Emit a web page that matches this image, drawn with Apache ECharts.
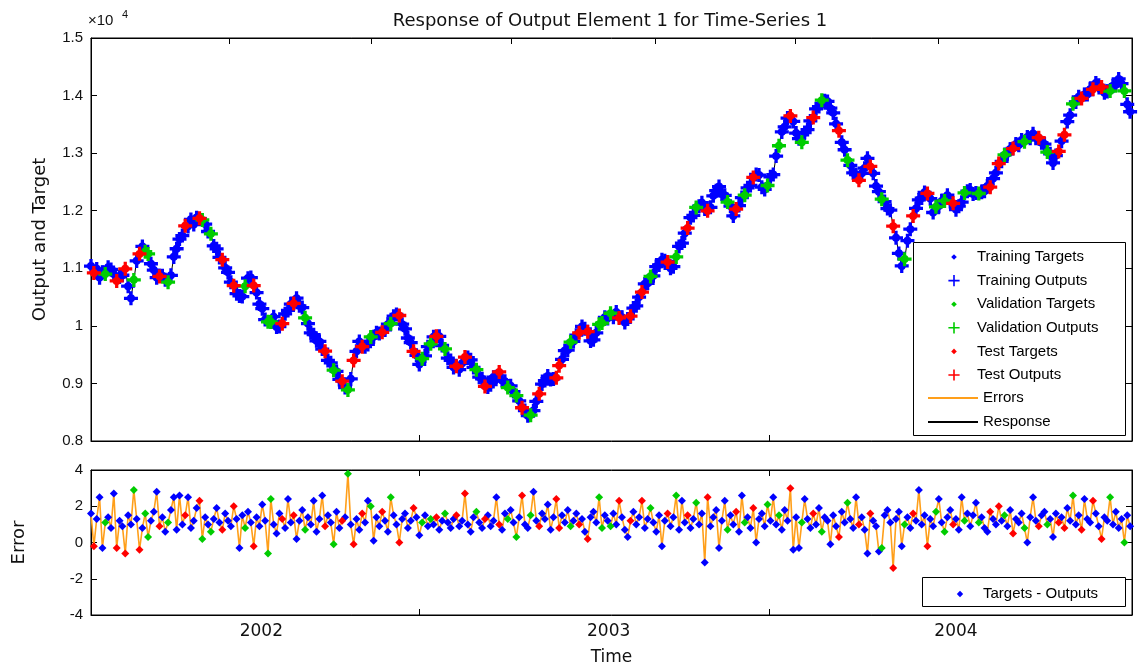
<!DOCTYPE html>
<html>
<head>
<meta charset="utf-8">
<script src="https://cdn.jsdelivr.net/npm/echarts@6/dist/echarts.min.js"></script>
<style>
  html, body { margin: 0; padding: 0; background: #fff; }
  #chart { width: 1138px; height: 668px; }
</style>
</head>
<body>
<div id="chart"></div>
<script>
// Sampling of the series: one sample every 3 days, counted from the axis start date
const axisStart = '2001-07-06';
const axisEnd = '2004-07-04';
const stepDays = 3;

// Target values of output element 1
const targetValues = [
  11040, 10920, 10990, 10840, 10930, 10900, 11020, 10980, 10900, 10780,
  10850, 10880, 10990, 10690, 10480, 10800, 11130, 11250, 11380, 11290,
  11250, 11080, 10970, 10840, 10860, 10870, 10800, 10760, 10880, 11200,
  11340, 11510, 11570, 11740, 11730, 11850, 11760, 11880, 11870, 11840,
  11770, 11640, 11600, 11390, 11340, 11190, 11150, 11010, 10930, 10760,
  10700, 10560, 10520, 10510, 10690, 10830, 10840, 10700, 10580, 10380,
  10300, 10110, 10070, 10070, 10160, 9980, 9990, 10040, 10210, 10270,
  10380, 10390, 10480, 10350, 10320, 10140, 10040, 9880, 9850, 9740,
  9730, 9600, 9560, 9400, 9360, 9230, 9210, 9070, 9040, 8930,
  8890, 9080, 9400, 9560, 9730, 9640, 9640, 9680, 9810, 9810,
  9880, 9870, 9890, 9930, 10030, 10040, 10170, 10200, 10180, 10030,
  9950, 9790, 9710, 9560, 9490, 9330, 9430, 9480, 9640, 9690,
  9810, 9820, 9820, 9660, 9600, 9440, 9400, 9280, 9300, 9240,
  9350, 9460, 9450, 9410, 9280, 9240, 9110, 9080, 8950, 8940,
  8980, 9110, 9120, 9200, 9050, 9040, 8930, 8960, 8860, 8790,
  8700, 8580, 8530, 8440, 8450, 8530, 8690, 8820, 8990, 9050,
  9130, 9070, 9080, 9100, 9310, 9420, 9570, 9580, 9720, 9730,
  9840, 9880, 9990, 9950, 9900, 9740, 9760, 9880, 10030, 10050,
  10150, 10130, 10220, 10150, 10240, 10140, 10150, 10060, 10120, 10170,
  10310, 10350, 10500, 10590, 10730, 10740, 10860, 10870, 11030, 11060,
  11150, 11130, 11110, 11000, 11030, 11200, 11380, 11440, 11610, 11700,
  11880, 11920, 12060, 12080, 12140, 12030, 12000, 12060, 12260, 12350,
  12420, 12290, 12270, 12150, 12080, 11910, 12030, 12090, 12230, 12270,
  12400, 12440, 12580, 12630, 12620, 12410, 12370, 12440, 12590, 12630,
  12950, 13130, 13370, 13460, 13610, 13650, 13550, 13350, 13250, 13190,
  13360, 13410, 13560, 13620, 13770, 13810, 13920, 13910, 13900, 13780,
  13700, 13510, 13390, 13190, 13060, 12880, 12790, 12660, 12630, 12530,
  12650, 12740, 12910, 12770, 12650, 12430, 12330, 12200, 12160, 12040,
  12010, 11730, 11530, 11260, 11040, 11160, 11480, 11680, 11910, 12040,
  12190, 12220, 12320, 12300, 12210, 11970, 12070, 12080, 12170, 12170,
  12270, 12160, 12130, 12020, 12080, 12150, 12310, 12340, 12360, 12290,
  12310, 12300, 12320, 12340, 12430, 12410, 12560, 12660, 12820, 12860,
  12970, 12990, 13070, 13080, 13160, 13140, 13230, 13200, 13280, 13260,
  13340, 13260, 13270, 13180, 13160, 13020, 12990, 12830, 12960, 13030,
  13210, 13320, 13550, 13660, 13860, 13890, 13980, 13950, 14020, 14020,
  14110, 14110, 14220, 14180, 14150, 14050, 14070, 14080, 14170, 14190,
  14290, 14210, 14080, 13850, 13720
];

// Errors (targets - outputs)
const errorValues = [
  1.6, -0.2, 1.3, 2.5, -0.3, 1.1, 1.4, 0.8, 2.7, -0.3,
  1.2, 0.9, -0.6, 1.5, 1.0, 2.9, 1.3, -0.4, 0.8, 1.6,
  0.3, 1.2, 1.7, 2.8, 0.9, 1.4, 0.6, 1.1, 1.8, 2.5,
  0.7, 2.6, 1.0, 1.5, 2.5, 0.8, 1.2, 1.9, 2.3, 0.2,
  1.4, 1.0, 0.6, 1.3, 1.9, 1.1, 0.7, 1.6, 1.2, 0.9,
  2.0, 1.3, -0.3, 1.5, 0.8, 1.7, 1.1, -0.2, 1.4, 0.9,
  2.1, 1.2, -0.6, 2.4, 1.0, 0.5, 1.6, 1.3, 0.8, 2.4,
  1.1, 1.5, 0.2, 1.2, 1.8, 0.7, 1.4, 1.0, 2.3, 0.6,
  1.3, 2.6, 0.9, 1.5, 1.1, -0.1, 1.7, 0.8, 1.2, 1.4,
  3.8, 1.0, -0.1, 1.3, 0.7, 1.6, 1.1, 2.3, 2.0, 0.1,
  1.4, 0.9, 1.7, 1.2, 0.6, 2.5, 1.5, 1.0, 0.0, 1.3,
  1.6, 0.8, 1.2, 1.9, 1.4, 0.4, 1.1, 1.5, 0.9, 1.3,
  1.0, 1.4, 0.7, 1.2, 1.6, 1.1, 0.8, 1.3, 1.5, 0.9,
  1.2, 2.7, 1.0, 0.6, 1.4, 1.7, 1.1, 0.8, 1.3, 1.5,
  0.9, 1.2, 2.5, 1.0, 0.7, 1.6, 1.3, 1.8, 1.1, 0.3,
  1.4, 2.6, 1.0, 0.8, 1.5, 2.8, 1.2, 0.9, 1.6, 1.3,
  2.1, 0.7, 1.4, 2.4, 0.8, 1.5, 1.1, 1.8, 0.9, 1.2,
  1.6, 1.0, 1.3, 0.6, 0.2, 1.4, 1.7, 1.1, 2.5, 0.8,
  1.5, 1.2, 0.9, 1.6, 1.0, 2.3, 1.4, 0.7, 0.3, 1.2,
  1.7, 1.0, 1.4, 2.3, 0.8, 1.3, 1.9, 1.1, 0.6, 1.5,
  -0.2, 1.2, 1.6, 0.9, 1.4, 2.6, 0.7, 2.3, 1.1, 1.5,
  0.8, 1.3, 2.2, 1.0, 1.6, -1.1, 2.5, 0.9, 1.4, 1.8,
  -0.3, 1.2, 2.3, 0.7, 1.5, 1.0, 1.7, 0.6, 2.6, 1.1,
  1.4, 0.8, 1.9, 0.0, 1.3, 1.6, 0.9, 2.1, 1.2, 2.5,
  1.0, 1.5, 0.7, 1.8, 1.2, 3.0, -0.4, 1.4, -0.3, 1.1,
  2.4, 1.3, 0.8, 1.6, 1.0, 1.9, 0.6, 1.4, 1.2, -0.1,
  1.5, 0.9, 0.3, 1.7, 1.1, 2.2, 1.3, 0.8, 2.5, 1.0,
  1.4, 0.7, -0.6, 1.6, 1.2, 0.9, -0.5, -0.3, 1.5, 1.8,
  1.1, -1.4, 1.3, 1.7, -0.2, 1.0, 1.4, 0.8, 1.6, 1.2,
  2.9, 1.0, 1.5, -0.2, 1.3, 0.9, 1.7, 2.4, 1.1, 0.6,
  1.4, 1.8, 1.0, 1.3, 0.7, 2.5, 1.2, 1.6, 0.9, 1.5,
  2.2, 1.1, 1.4, 0.8, 0.6, 1.7, 1.3, 1.0, 2.0, 1.2,
  1.5, 0.9, 1.8, 0.5, 1.3, 1.1, 1.6, 0.8, 0.0, 1.4,
  2.5, 1.2, 0.9, 1.5, 1.7, 1.0, 1.3, 0.3, 1.6, 1.1,
  1.4, 0.8, 1.9, 1.2, 2.6, 1.0, 1.5, 0.7, 2.4, 1.3,
  1.1, 2.3, 1.6, 0.9, 0.2, 1.4, 1.2, 2.5, 1.0, 1.7,
  0.8, 1.3, 0.0, 1.5, 0.9
];

// Data division of each sample: t = training, v = validation, s = test
const splitCodes = (
  'tstttvttts' + 'ttsttvtstv' + 'vtttsttvtt' + 'tttsttttsv' + 'ttvtttsttt' +
  'stttvttstt' + 'ttvvtttstt' + 'tstttvtttt' + 'ttsttvttst' + 'vtsttsttvt' +
  'ttsttvttst' + 'tttsttvttv' + 'tsttvtttst' + 'tstttvttst' + 'tttsttvttv' +
  'tsttvttstt' + 'tttsstttvt' + 'tsttstttvv' + 'ttvttsttts' + 'tttsttvttt' +
  'ttsttvttts' + 'ttvtttsttt' + 'tttvttsttv' + 'ttsttttvtt' + 'tvtttstttv' +
  'tttsttvttt' + 'ttsttvttts' + 'tttstttvtt' + 'tstttvttst' + 'tttsttvttv' +
  'ttstttvttt' + 'tvtttsttst' + 'vttstttvtt' + 'ttsttvttts' + 'tsttvttstt' +
  'tsttsttvtt' + 'ttvtt'
).split('');

// Axis ticks and labels (dates)
const yearLabelDates = ['2002-01-01', '2003-01-01', '2004-01-01'];
const innerTickDates = ['2002-06-16', '2003-06-19'];
const topTickDates = ['2001-11-28', '2002-04-27', '2002-09-21', '2003-02-19', '2003-07-16', '2003-12-13', '2004-05-08'];

const splits = [
  { code: 't', name: 'Training', color: '#0000ff', errName: 'Targets - Outputs' },
  { code: 'v', name: 'Validation', color: '#00cc00', errName: 'Validation Errors' },
  { code: 's', name: 'Test', color: '#ff0000', errName: 'Test Errors' }
];

// x is measured in days since the axis start date
const DAY = 86400000;
const t0 = new Date(axisStart).getTime();
const dayOf = (s) => Math.round((new Date(s).getTime() - t0) / DAY);
const yearOf = (d) => new Date(t0 + d * DAY).getUTCFullYear();
const sampleDays = targetValues.map((_, i) => i * stepDays);
const outputValues = targetValues.map((v, i) => v - errorValues[i]);

const plusPath = 'path://M4.6,0H7.4V4.6H12V7.4H7.4V12H4.6V7.4H0V4.6H4.6Z';
const dotIcon = 'path://M0,0M20,20M10,6.5L13.5,10L10,13.5L6.5,10Z';
const plusIcon = 'path://M0,0M20,20M9,3H11V9H17V11H11V17H9V11H3V9H9Z';
const lineIcon = 'path://M0,0M50,16M0,7H50V9H0Z';
const diamondIcon = 'path://M0,0M20,20M10,6L14,10L10,14L6,10Z';

const black = '#000';
const sansA = 'Liberation Sans';
const sansB = 'DejaVu Sans';

const series = [];
series.push({
  name: 'Response', type: 'line', xAxisIndex: 0, yAxisIndex: 0,
  data: sampleDays.map((d, i) => [d, outputValues[i]]),
  showSymbol: false, lineStyle: { color: '#000', width: 1 }, itemStyle: { color: '#000' },
  z: 1, silent: true
});
splits.forEach((sp) => {
  const idx = splitCodes.map((c, i) => (c === sp.code ? i : -1)).filter((i) => i >= 0);
  series.push({
    name: sp.name + ' Targets', type: 'scatter', xAxisIndex: 0, yAxisIndex: 0,
    data: idx.map((i) => [sampleDays[i], targetValues[i]]),
    symbol: 'circle', symbolSize: 8, itemStyle: { color: sp.color, opacity: 1 }, silent: true
  });
  series.push({
    name: sp.name + ' Outputs', type: 'scatter', xAxisIndex: 0, yAxisIndex: 0,
    data: idx.map((i) => [sampleDays[i], outputValues[i]]),
    symbol: plusPath, symbolSize: 14, itemStyle: { color: sp.color, opacity: 1 }, silent: true
  });
});
series.push({
  name: 'Errors', type: 'line', xAxisIndex: 2, yAxisIndex: 2,
  data: sampleDays.map((d, i) => [d, errorValues[i]]),
  showSymbol: false, lineStyle: { color: '#ff9f1a', width: 1.6 }, itemStyle: { color: '#ff9f1a' },
  z: 1, silent: true
});
splits.forEach((sp) => {
  const idx = splitCodes.map((c, i) => (c === sp.code ? i : -1)).filter((i) => i >= 0);
  series.push({
    name: sp.errName, type: 'scatter', xAxisIndex: 2, yAxisIndex: 2,
    data: idx.map((i) => [sampleDays[i], errorValues[i]]),
    symbol: 'diamond', symbolSize: 8, itemStyle: { color: sp.color, opacity: 1 }, silent: true
  });
});

function dayAxis(grid, position, tickDates, labelDates, extra) {
  return Object.assign({
    type: 'value', gridIndex: grid, position: position,
    min: 0, max: dayOf(axisEnd),
    axisLine: { show: true, onZero: false, lineStyle: { color: black, width: 1 } },
    axisTick: { show: true, inside: true, length: 6, customValues: tickDates.map(dayOf), lineStyle: { color: black } },
    axisLabel: labelDates
      ? { show: true, customValues: labelDates.map(dayOf), formatter: (v) => String(yearOf(v)),
          color: '#111', fontFamily: sansB, fontSize: 17, margin: 8 }
      : { show: false },
    splitLine: { show: false }
  }, extra || {});
}

function valueAxis(grid, position, min, max, interval, labels, extra) {
  return Object.assign({
    type: 'value', gridIndex: grid, position: position, min: min, max: max, interval: interval,
    axisLine: { show: true, onZero: false, lineStyle: { color: black, width: 1 } },
    axisTick: { show: true, inside: true, length: 6, lineStyle: { color: black } },
    axisLabel: labels || { show: false },
    splitLine: { show: false }
  }, extra || {});
}

const option = {
  animation: false,
  backgroundColor: '#fff',
  title: {
    text: 'Response of Output Element 1 for Time-Series 1',
    left: 605, top: 7, textAlign: 'center',
    textStyle: { fontFamily: sansB, fontSize: 18, fontWeight: 'normal', color: '#111' }
  },
  grid: [
    { left: 91, right: 6, top: 38, height: 403, show: true, borderColor: black, borderWidth: 1, backgroundColor: 'transparent' },
    { left: 91, right: 6, top: 470, height: 145, show: true, borderColor: black, borderWidth: 1, backgroundColor: 'transparent' }
  ],
  xAxis: [
    dayAxis(0, 'bottom', innerTickDates, null),
    dayAxis(0, 'top', topTickDates, null),
    dayAxis(1, 'bottom', innerTickDates, yearLabelDates, {
      name: 'Time', nameLocation: 'middle', nameGap: 34,
      nameTextStyle: { fontFamily: sansB, fontSize: 17, color: '#111' }
    }),
    dayAxis(1, 'top', innerTickDates, null)
  ],
  yAxis: [
    valueAxis(0, 'left', 8000, 15000, 1000,
      { show: true, formatter: (v) => String(v / 10000), color: '#111', fontFamily: sansA, fontSize: 15, margin: 8 },
      { name: 'Output and Target', nameLocation: 'middle', nameGap: 42,
        nameTextStyle: { fontFamily: sansB, fontSize: 18, color: '#111' } }),
    valueAxis(0, 'right', 8000, 15000, 1000, null),
    valueAxis(1, 'left', -4, 4, 2,
      { show: true, color: '#111', fontFamily: sansA, fontSize: 15, margin: 8 },
      { name: 'Error', nameLocation: 'middle', nameGap: 63,
        nameTextStyle: { fontFamily: sansB, fontSize: 18, color: '#111' } }),
    valueAxis(1, 'right', -4, 4, 2, null)
  ],
  legend: [
    {
      orient: 'vertical', left: 941, top: 244, itemWidth: 16, itemHeight: 16, itemGap: 7.6,
      selectedMode: false, z: 5,
      textStyle: { fontFamily: sansA, fontSize: 15, color: '#000', lineHeight: 16, padding: [0, 0, 0, 10] },
      data: [
        { name: 'Training Targets', icon: dotIcon },
        { name: 'Training Outputs', icon: plusIcon },
        { name: 'Validation Targets', icon: dotIcon },
        { name: 'Validation Outputs', icon: plusIcon },
        { name: 'Test Targets', icon: dotIcon },
        { name: 'Test Outputs', icon: plusIcon }
      ]
    },
    {
      orient: 'vertical', left: 923, top: 385, itemWidth: 50, itemHeight: 16, itemGap: 8,
      selectedMode: false, z: 5,
      textStyle: { fontFamily: sansA, fontSize: 15, color: '#000', lineHeight: 16 },
      data: [
        { name: 'Errors', icon: lineIcon, itemStyle: { color: '#ff9f1a' } },
        { name: 'Response', icon: lineIcon, itemStyle: { color: '#000' } }
      ]
    },
    {
      orient: 'vertical', left: 947, top: 581, itemWidth: 16, itemHeight: 16,
      selectedMode: false, z: 5,
      textStyle: { fontFamily: sansA, fontSize: 15, color: '#000', lineHeight: 16, padding: [0, 0, 0, 10] },
      data: [{ name: 'Targets - Outputs', icon: diamondIcon }]
    }
  ],
  graphic: [
    { type: 'rect', z: 3, shape: { x: 913.5, y: 242.5, width: 212, height: 193 },
      style: { fill: '#fff', stroke: '#000', lineWidth: 1 } },
    { type: 'rect', z: 3, shape: { x: 922.5, y: 577.5, width: 203, height: 29 },
      style: { fill: '#fff', stroke: '#000', lineWidth: 1 } },
    { type: 'text', z: 6, left: 88, top: 13,
      style: { text: '\u00d710', fontFamily: sansA, fontSize: 15, fill: '#111' } },
    { type: 'text', z: 6, left: 122, top: 9,
      style: { text: '4', fontFamily: sansA, fontSize: 11, fill: '#111' } }
  ],
  series: series
};

const chart = echarts.init(document.getElementById('chart'), null, { renderer: 'canvas' });
chart.setOption(option);
</script>
</body>
</html>
